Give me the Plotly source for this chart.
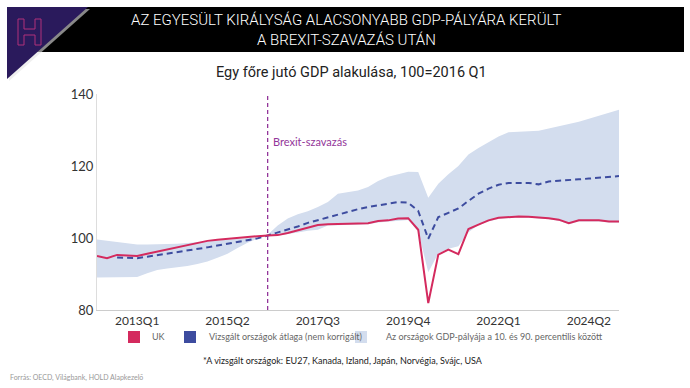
import plotly.graph_objects as go

# ---------------- data ----------------
quarters = [f"{y}Q{q}" for y in range(2012, 2026) for q in range(1, 5)][:53]

uk = [95.0, 94.4, 95.3, 95.1, 95.0, 95.6, 96.2, 96.8, 97.3, 98.0, 98.6, 99.2,
      99.5, 99.8, 100.1, 100.3, 100.5, 100.7, 100.8, 101.4, 102.2, 103.0, 103.6, 103.8,
      103.9, 103.9, 104.0, 104.1, 104.7, 104.9, 105.4, 105.5, 102.3, 81.9, 95.4, 96.8,
      95.5, 102.5, 103.7, 104.9, 105.6, 105.9, 106.0, 105.9, 105.8, 105.5, 105.1, 104.1,
      104.9, 105.0, 104.9, 104.6, 104.6]

avg = [None, None, 94.6, 94.5, 94.4, 94.8, 95.2, 95.6, 96.0, 96.5, 96.9, 97.4,
       97.9, 98.4, 98.9, 99.4, 99.9, 100.7, 101.5, 102.3, 103.2, 104.2, 105.0, 105.8,
       106.6, 107.4, 108.0, 108.6, 109.1, 109.5, 110.0, 109.8, 107.5, 99.8, 105.8, 107.0,
       108.2, 110.3, 112.3, 113.7, 114.8, 115.3, 115.4, 115.3, 114.9, 115.7, 115.9, 116.0,
       116.3, 116.5, 116.8, 117.0, 117.2]

p90 = [99.6, 99.3, 98.9, 98.5, 98.2, 98.2, 98.2, 98.3, 98.4, 98.6, 98.8, 99.0,
       99.3, 99.5, 99.8, 100.0, 100.3, 100.9, 103.5, 105.4, 106.6, 107.4, 108.6, 110.0,
       112.3, 112.8, 113.2, 114.2, 115.8, 117.0, 117.8, 118.4, 118.3, 111.2, 115.1, 117.7,
       120.0, 123.2, 125.0, 126.7, 128.2, 129.4, 129.5, 129.5, 129.8, 130.4, 131.0, 131.6,
       132.3, 133.1, 133.9, 134.9, 135.6]

p10 = [89.0, 89.0, 89.1, 89.1, 89.2, 90.2, 91.1, 91.5, 91.8, 92.2, 92.8, 93.5,
       94.5, 95.6, 97.2, 98.7, 99.8, 100.6, 100.7, 101.0, 101.5, 102.0, 102.3, 103.5,
       103.6, 103.6, 103.6, 103.8, 104.3, 104.5, 104.8, 105.0, 101.8, 90.5, 95.7, 97.0,
       97.7, 101.6, 103.6, 104.6, 105.3, 105.6, 105.7, 105.6, 105.5, 105.2, 104.8, 103.8,
       104.6, 104.7, 104.6, 104.3, 104.3]

tick_labels = ["2013Q1", "2015Q2", "2017Q3", "2019Q4", "2022Q1", "2024Q2"]
y_ticks = [80, 100, 120, 140]
brexit_q = "2016Q2"
brexit_label_y = 126.7

title_l1 = "AZ EGYESÜLT KIRÁLYSÁG ALACSONYABB GDP-PÁLYÁRA KERÜLT"
title_l2 = "A BREXIT-SZAVAZÁS UTÁN"
subtitle = "Egy főre jutó GDP alakulása, 100=2016 Q1"
legend_names = ["UK", "Vizsgált országok átlaga (nem korrigált)",
                "Az országok GDP-pályája a 10. és 90. percentilis között"]
footnote = "*A vizsgált országok: EU27, Kanada, Izland, Japán, Norvégia, Svájc, USA"
source = "Forrás: OECD, Világbank, HOLD Alapkezelő"

# ---------------- style ----------------
W, H = 690, 388
ML, MR, MT, MB = 97, 71, 94, 78
PW, PH = W - ML - MR, H - MT - MB
RED = "#d42a5e"
BLUE = "#3d4c9f"
BAND = "#d3ddee"
PURPLE = "#93369a"
FONT = "Lato"


def px(x):
    return (x - ML) / PW


def py(y):
    return (H - MB - y) / PH


def text(x, y, s, size, color, family=FONT, xanchor="center", weight="normal"):
    return dict(xref="paper", yref="paper", x=px(x), y=py(y), text=s, showarrow=False,
                xanchor=xanchor, yanchor="middle",
                font=dict(family=family, size=size, color=color, weight=weight))


fig = go.Figure()
fig.add_trace(go.Scatter(x=quarters, y=p10, mode="lines", line=dict(width=0, color=BAND),
                         showlegend=False, hoverinfo="skip"))
fig.add_trace(go.Scatter(x=quarters, y=p90, mode="lines", line=dict(width=0, color=BAND),
                         fill="tonexty", fillcolor=BAND, showlegend=False, name=legend_names[2]))
fig.add_trace(go.Scatter(x=quarters, y=avg, mode="lines",
                         line=dict(color=BLUE, width=2, dash="6px,4px"),
                         showlegend=False, name=legend_names[1]))
fig.add_trace(go.Scatter(x=quarters, y=uk, mode="lines", line=dict(color=RED, width=2),
                         showlegend=False, name=legend_names[0]))

shapes = []
annotations = []

# Brexit line
shapes.append(dict(type="line", xref="x", yref="paper", x0=brexit_q, x1=brexit_q, y0=0, y1=1,
                   line=dict(color=PURPLE, width=1.3, dash="4px,3px")))
annotations.append(dict(xref="x", yref="y", x=brexit_q, y=brexit_label_y, text="Brexit-szavazás",
                        showarrow=False, xanchor="left", yanchor="middle", xshift=3,
                        font=dict(family=FONT, size=11, color=PURPLE)))

# Banner
shapes.append(dict(type="rect", xref="paper", yref="paper", x0=px(7), x1=px(684),
                   y0=py(52), y1=py(7), fillcolor="#000000", line=dict(width=0), layer="above"))
shapes.append(dict(type="path", xref="paper", yref="paper",
                   path=f"M {px(9)},{py(9)} L {px(90)},{py(9)} L {px(9)},{py(81)} Z",
                   fillcolor="#e4e4e4", line=dict(width=0), layer="above", opacity=0.6))
shapes.append(dict(type="path", xref="paper", yref="paper",
                   path=f"M {px(7)},{py(7)} L {px(88)},{py(7)} L {px(7)},{py(79)} Z",
                   fillcolor="#2a1a5c", line=dict(width=0), layer="above"))
# H logo outline
hpts = [(18, 19), (24, 19), (24, 29), (35, 29), (35, 19), (41, 19), (41, 45), (35, 45),
        (35, 35), (24, 35), (24, 45), (18, 45)]
hpath = "M " + " L ".join(f"{px(a)},{py(b)}" for a, b in hpts) + " Z"
shapes.append(dict(type="path", xref="paper", yref="paper", path=hpath,
                   fillcolor="rgba(0,0,0,0)", line=dict(color="#b0307a", width=1), layer="above"))

annotations.append(text(346, 20, title_l1, 15, "white", family="Roboto", weight=300))
annotations.append(text(346, 40, title_l2, 15, "white", family="Roboto", weight=300))
annotations.append(text(351, 72, subtitle, 14.5, "#222222", family="Roboto"))

# Legend (key)
leg = [(128, RED, legend_names[0], 150), (184, BLUE, legend_names[1], 207),
       (355, BAND, legend_names[2], 384)]
for x0, col, name, tx in leg:
    shapes.append(dict(type="rect", xref="paper", yref="paper", x0=px(x0), x1=px(x0 + 12),
                       y0=py(343), y1=py(331), fillcolor=col, line=dict(width=0)))
    annotations.append(text(tx, 336, name, 9, "#666666", xanchor="left"))

annotations.append(text(343, 360, footnote, 9, "#222222"))
annotations.append(text(8, 377, source, 7, "#999999", xanchor="left"))

fig.update_layout(
    width=W, height=H, margin=dict(l=ML, r=MR, t=MT, b=MB),
    paper_bgcolor="white", plot_bgcolor="white",
    shapes=shapes, annotations=annotations, showlegend=False,
    font=dict(family=FONT, color="#333333"),
)
fig.update_xaxes(type="category", range=[0, len(quarters) - 1], tickmode="array",
                 tickvals=tick_labels, ticktext=tick_labels, showgrid=False,
                 showline=True, linecolor="#cccccc", linewidth=1, ticks="",
                 tickfont=dict(family=FONT, size=12, color="#333333"), zeroline=False)
fig.update_yaxes(range=[80, 140], tickvals=y_ticks, showgrid=False, showline=True,
                 linecolor="#dddddd", linewidth=1, ticks="", zeroline=False,
                 tickfont=dict(family=FONT, size=13, color="#333333"))

fig.write_html("out.html", config={"displayModeBar": False},
               post_script="document.body.style.margin='0';")
